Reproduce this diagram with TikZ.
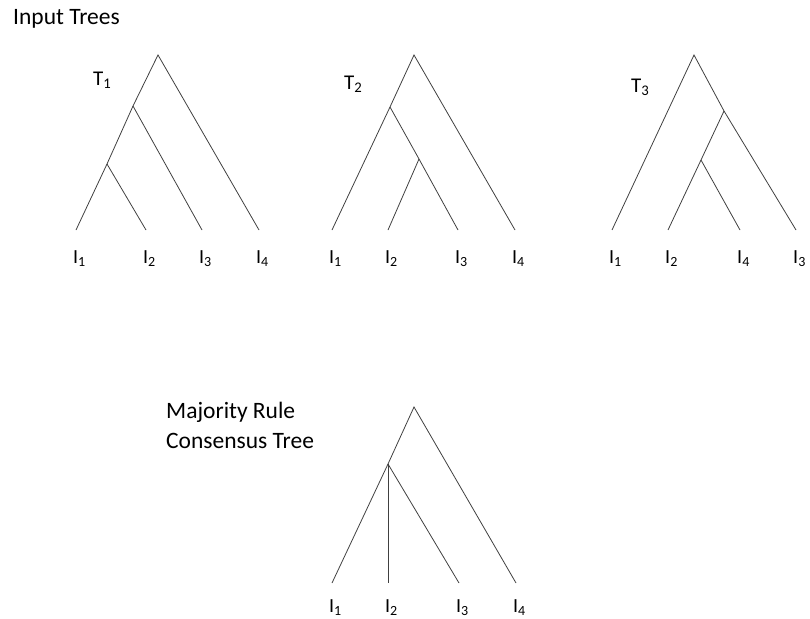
\documentclass[tikz,border=0pt]{standalone}
\usepackage{fontspec}
\setmainfont{Carlito}
\usepackage{tikz}
\usetikzlibrary{positioning}

\begin{document}
\begin{tikzpicture}[
        x=1pt, y=-1pt,
        branch/.style={draw=black!75, line width=0.8pt},
        leaflabel/.style={anchor=west, inner sep=0pt, font=\fontsize{20}{24}\selectfont},
        treename/.style={anchor=west, inner sep=0pt, font=\fontsize{21}{25}\selectfont},
        heading/.style={anchor=west, inner sep=0pt, align=left, font=\fontsize{23.5}{30}\selectfont}
    ]
        \useasboundingbox (0,0) rectangle (810,618);

        \node[heading] (input) at (13,19) {Input Trees};

        % tree T1
        \coordinate (aroot) at (158,55);
        \coordinate (aint) at (133,106);
        \coordinate (alow) at (107,164);
        \coordinate (aleafa) at (76,230);
        \coordinate (aleafb) at (146,230);
        \coordinate (aleafc) at (202,230);
        \coordinate (aleafd) at (259,230);
        \draw[branch] (aleafa) -- (alow) -- (aint) -- (aroot) -- (aleafd);
        \draw[branch] (alow) -- (aleafb);
        \draw[branch] (aint) -- (aleafc);
        \node[treename] (tone) at (93,80) {T\textsubscript{1}};
        \node[leaflabel] at (73,259) {I\textsubscript{1}};
        \node[leaflabel] at (143,259) {I\textsubscript{2}};
        \node[leaflabel] at (199,259) {I\textsubscript{3}};
        \node[leaflabel] at (256,259) {I\textsubscript{4}};

        % tree T2
        \coordinate (broot) at (414,55);
        \coordinate (bint) at (390,107);
        \coordinate (blow) at (419,159);
        \coordinate (bleafa) at (332,230);
        \coordinate (bleafb) at (388,230);
        \coordinate (bleafc) at (458,230);
        \coordinate (bleafd) at (515,230);
        \draw[branch] (bleafa) -- (bint) -- (broot) -- (bleafd);
        \draw[branch] (bint) -- (blow) -- (bleafc);
        \draw[branch] (blow) -- (bleafb);
        \node[treename] (ttwo) at (344,84) {T\textsubscript{2}};
        \node[leaflabel] at (329,259) {I\textsubscript{1}};
        \node[leaflabel] at (385,259) {I\textsubscript{2}};
        \node[leaflabel] at (455,259) {I\textsubscript{3}};
        \node[leaflabel] at (512,259) {I\textsubscript{4}};

        % tree T3
        \coordinate (croot) at (694,55);
        \coordinate (cint) at (724,111);
        \coordinate (clow) at (701,160);
        \coordinate (cleafa) at (612,230);
        \coordinate (cleafb) at (668,230);
        \coordinate (cleafc) at (740,230);
        \coordinate (cleafd) at (796,230);
        \draw[branch] (cleafa) -- (croot) -- (cint) -- (cleafd);
        \draw[branch] (cint) -- (clow) -- (cleafb);
        \draw[branch] (clow) -- (cleafc);
        \node[treename] (tthree) at (631,87) {T\textsubscript{3}};
        \node[leaflabel] at (609,259) {I\textsubscript{1}};
        \node[leaflabel] at (665,259) {I\textsubscript{2}};
        \node[leaflabel] at (737,259) {I\textsubscript{4}};
        \node[leaflabel] at (793,259) {I\textsubscript{3}};

        % consensus tree
        \node[heading] (majority) at (166,425) {Majority Rule\\Consensus Tree};
        \coordinate (mroot) at (414,407);
        \coordinate (mint) at (388,464);
        \coordinate (mleafa) at (332,583);
        \coordinate (mleafb) at (388,583);
        \coordinate (mleafc) at (459,583);
        \coordinate (mleafd) at (516,583);
        \draw[branch] (mleafa) -- (mint) -- (mroot) -- (mleafd);
        \draw[branch] (mint) -- (mleafb);
        \draw[branch] (mint) -- (mleafc);
        \node[leaflabel] at (329,608) {I\textsubscript{1}};
        \node[leaflabel] at (385,608) {I\textsubscript{2}};
        \node[leaflabel] at (456,608) {I\textsubscript{3}};
        \node[leaflabel] at (513,608) {I\textsubscript{4}};
    \end{tikzpicture}
\end{document}
